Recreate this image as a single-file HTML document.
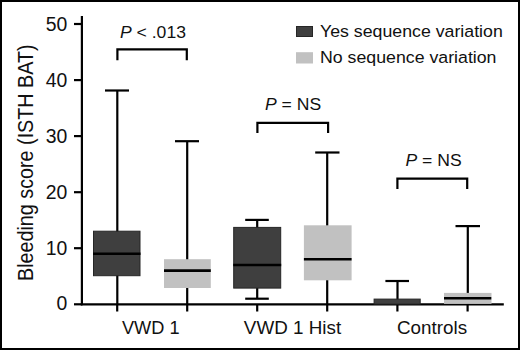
<!DOCTYPE html>
<html><head><meta charset="utf-8"><style>
html,body{margin:0;padding:0;background:#fff;}
body{width:520px;height:350px;overflow:hidden;position:relative;}
svg{position:absolute;left:0;top:0;}
text{font-family:"Liberation Sans",sans-serif;fill:#111;}
</style></head><body>
<svg width="520" height="350" viewBox="0 0 520 350" xmlns="http://www.w3.org/2000/svg">
<rect x="0" y="0" width="520" height="350" fill="#fff"/>
<!-- frame -->
<rect x="1" y="1" width="518" height="348" fill="none" stroke="#000" stroke-width="2"/>

<!-- axes -->
<g stroke="#000" stroke-width="2.2" fill="none">
<line x1="81.9" y1="16" x2="81.9" y2="305.3"/>
<line x1="80.8" y1="304.3" x2="503.8" y2="304.3"/>
<!-- y ticks -->
<line x1="74" y1="24" x2="82" y2="24"/>
<line x1="74" y1="80.1" x2="82" y2="80.1"/>
<line x1="74" y1="136.1" x2="82" y2="136.1"/>
<line x1="74" y1="192.2" x2="82" y2="192.2"/>
<line x1="74" y1="248.2" x2="82" y2="248.2"/>
<line x1="74" y1="304.3" x2="82" y2="304.3"/>
<!-- x ticks -->
<line x1="117.2" y1="304" x2="117.2" y2="311.5"/>
<line x1="187.2" y1="304" x2="187.2" y2="311.5"/>
<line x1="257.2" y1="304" x2="257.2" y2="311.5"/>
<line x1="327.2" y1="304" x2="327.2" y2="311.5"/>
<line x1="397.4" y1="304" x2="397.4" y2="311.5"/>
<line x1="467.6" y1="304" x2="467.6" y2="311.5"/>
</g>

<!-- y labels -->
<g font-size="19.4" text-anchor="end">
<text x="67.3" y="30.6">50</text>
<text x="67.3" y="86.7">40</text>
<text x="67.3" y="142.7">30</text>
<text x="67.3" y="198.8">20</text>
<text x="67.3" y="254.8">10</text>
<text x="67.3" y="310">0</text>
</g>

<!-- y title -->
<text transform="translate(33,281) rotate(-90) scale(0.898,1)" font-size="22" x="0" y="0">Bleeding score (ISTH BAT)</text>

<!-- whiskers -->
<g stroke="#000" stroke-width="2.2" fill="none">
<!-- box1 -->
<line x1="117.3" y1="90.5" x2="117.3" y2="304"/>
<line x1="105" y1="90.5" x2="129" y2="90.5"/>
<!-- box2 -->
<line x1="187.2" y1="141.2" x2="187.2" y2="304"/>
<line x1="175" y1="141.2" x2="199" y2="141.2"/>
<!-- box3 -->
<line x1="257.2" y1="219.9" x2="257.2" y2="298.7"/>
<line x1="245.2" y1="219.9" x2="268.8" y2="219.9"/>
<line x1="245.2" y1="298.7" x2="268.8" y2="298.7"/>
<!-- box4 -->
<line x1="327.2" y1="152.5" x2="327.2" y2="304"/>
<line x1="315.2" y1="152.5" x2="339.5" y2="152.5"/>
<!-- box5 -->
<line x1="397.5" y1="281" x2="397.5" y2="304"/>
<line x1="385.4" y1="281" x2="409" y2="281"/>
<!-- box6 -->
<line x1="467.8" y1="226.1" x2="467.8" y2="304"/>
<line x1="455.5" y1="226.1" x2="480" y2="226.1"/>
</g>

<!-- boxes -->
<g stroke-width="1">
<rect x="93.5" y="231.2" width="46.5" height="44.5" fill="#3f3f3f" stroke="#262626"/>
<rect x="164" y="259.2" width="46.8" height="28.8" fill="#c1c1c1" stroke="none"/>
<rect x="233.7" y="227.4" width="47" height="60.7" fill="#3f3f3f" stroke="#262626"/>
<rect x="303.9" y="225.3" width="47.7" height="55" fill="#c1c1c1" stroke="none"/>
<rect x="374.1" y="299.1" width="46.1" height="5" fill="#3f3f3f" stroke="#262626"/>
<rect x="444" y="292.9" width="47.5" height="11" fill="#c1c1c1" stroke="none"/>
</g>
<!-- medians -->
<g stroke="#000" stroke-width="2.6">
<line x1="93" y1="253.8" x2="140.5" y2="253.8"/>
<line x1="164" y1="270.6" x2="210.8" y2="270.6"/>
<line x1="233.2" y1="265" x2="281.2" y2="265"/>
<line x1="303.9" y1="259.2" x2="351.6" y2="259.2"/>
<line x1="444" y1="298.3" x2="491.3" y2="298.3"/>
</g>
<!-- redraw whisker segments over boxes? (whiskers are behind boxes) -->

<!-- significance brackets -->
<g stroke="#000" stroke-width="2.2" fill="none">
<polyline points="117.4,60.3 117.4,49.3 186.8,49.3 186.8,60.3"/>
<polyline points="257.4,132.9 257.4,122.8 328.1,122.8 328.1,132.9"/>
<polyline points="397.4,189 397.4,178.7 467.2,178.7 467.2,189"/>
</g>
<g font-size="16.5">
<text transform="translate(120,37.6) scale(1.065,1)"><tspan font-style="italic">P</tspan> &lt; .013</text>
<text transform="translate(265,110.4) scale(1.065,1)"><tspan font-style="italic">P</tspan> = NS</text>
<text transform="translate(405.5,166.3) scale(1.065,1)"><tspan font-style="italic">P</tspan> = NS</text>
</g>

<!-- legend -->
<rect x="296.5" y="26.5" width="16" height="10" fill="#3f3f3f" stroke="#262626" stroke-width="1"/>
<rect x="296" y="52.2" width="17" height="11.3" fill="#c1c1c1"/>
<g font-size="17.4">
<text transform="translate(320,37) scale(1.02,1)">Yes sequence variation</text>
<text transform="translate(320,63) scale(1.02,1)">No sequence variation</text>
</g>

<!-- x labels -->
<g font-size="18.2" text-anchor="middle">
<text x="150.8" y="333.8">VWD 1</text>
<text transform="translate(292.5,333.8) scale(1.035,1)">VWD 1 Hist</text>
<text transform="translate(432,333.8) scale(1.035,1)">Controls</text>
</g>
</svg>
</body></html>
